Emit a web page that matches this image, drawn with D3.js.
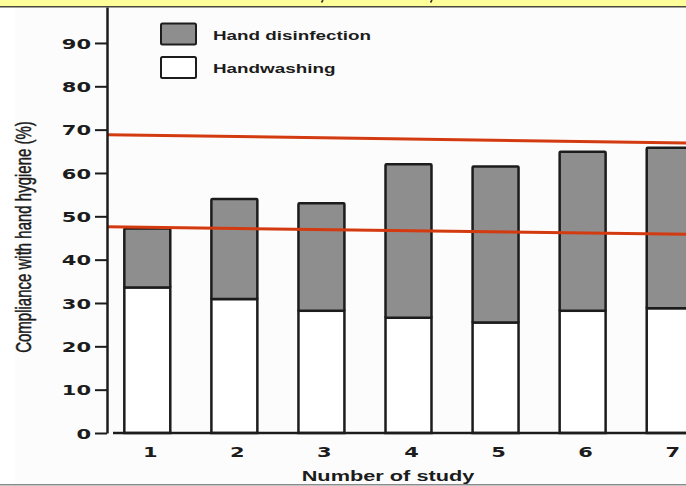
<!DOCTYPE html>
<html>
<head>
<meta charset="utf-8">
<script src="https://cdn.jsdelivr.net/npm/d3@7"></script>
<style>
  html, body { margin: 0; padding: 0; background: #ffffff; }
  svg { display: block; }
</style>
</head>
<body>
<div id="chart"></div>
<script>
// values
const studies = [1, 2, 3, 4, 5, 6, 7];
const handwashing = [33.6, 30.9, 28.2, 26.6, 25.5, 28.2, 28.8];
const handDisinfection = [13.6, 23.1, 24.8, 35.4, 36.0, 36.7, 37.0];
const yTicks = [0, 10, 20, 30, 40, 50, 60, 70, 80, 90];
const trendX = [0.54, 7.5];
const upperTrend = [68.85, 66.8];
const lowerTrend = [47.6, 45.77];
const legendItems = [
  { label: "Hand disinfection", fill: "#8e8e8e" },
  { label: "Handwashing", fill: "#ffffff" },
];

(function () {
  const width = 686;
  const height = 486;
  const stretch = 1.45; // the source image is widened, so is its type
  const ink = "#1c1c1c";
  const numFont = "'DejaVu Sans', sans-serif";
  const textFont = "'Liberation Sans', Arial, sans-serif";

  const svg = d3.select("#chart").append("svg").attr("width", width).attr("height", height);

  // page background and frame bits
  svg.append("rect").attr("x", 15).attr("y", 7).attr("width", width - 15).attr("height", 477).attr("fill", "#fcfcfc");
  svg.append("rect").attr("x", 0).attr("y", 0).attr("width", width).attr("height", 6).attr("fill", "#ffff99");
  svg.append("line").attr("x1", 0).attr("x2", width).attr("y1", 6.75).attr("y2", 6.75).attr("stroke", "#4a4a3c").attr("stroke-width", 1.5);
  svg.append("line").attr("x1", 0).attr("x2", width).attr("y1", 484.75).attr("y2", 484.75).attr("stroke", "#8a8a8a").attr("stroke-width", 1.5);
  // tails of a caption line that sits above the crop
  [323, 432].forEach((cx) => {
    svg.append("path").attr("d", `M${cx},0 L${cx - 1.5},2.5`).attr("stroke", "#333").attr("stroke-width", 1.6).attr("fill", "none");
  });

  const x = d3.scaleBand().domain(studies).range([113, 704]).paddingInner(0.472).paddingOuter(0.13);
  const y = d3.scaleLinear().domain([0, 98.3]).range([433, 7]);
  const xLin = d3
    .scaleLinear()
    .domain([1, 7])
    .range([x(1) + x.bandwidth() / 2, x(7) + x.bandwidth() / 2]);

  const rows = studies.map((s, i) => ({ study: s, wash: handwashing[i], dis: handDisinfection[i] }));

  // bars
  const bars = svg.append("g").attr("class", "bars");
  bars
    .selectAll("rect.wash")
    .data(rows)
    .join("rect")
    .attr("class", "wash")
    .attr("x", (d) => x(d.study))
    .attr("width", x.bandwidth())
    .attr("y", (d) => y(d.wash))
    .attr("height", (d) => y(0) - y(d.wash))
    .attr("fill", "#ffffff")
    .attr("stroke", ink)
    .attr("stroke-width", 2.5);
  bars
    .selectAll("rect.dis")
    .data(rows)
    .join("rect")
    .attr("class", "dis")
    .attr("x", (d) => x(d.study))
    .attr("width", x.bandwidth())
    .attr("y", (d) => y(d.wash + d.dis))
    .attr("height", (d) => y(d.wash) - y(d.wash + d.dis))
    .attr("fill", "#8e8e8e")
    .attr("stroke", ink)
    .attr("stroke-width", 2.5)
    .attr("rx", 1);

  // trend lines
  const line = d3
    .line()
    .x((d) => xLin(d[0]))
    .y((d) => y(d[1]));
  [upperTrend, lowerTrend].forEach((vals) => {
    svg
      .append("path")
      .datum(trendX.map((t, i) => [t, vals[i]]))
      .attr("d", line)
      .attr("fill", "none")
      .attr("stroke", "#d43a10")
      .attr("stroke-width", 3);
  });

  // y axis
  svg
    .append("g")
    .attr("transform", "translate(107,0)")
    .call(d3.axisLeft(y).tickValues(yTicks).tickSize(12).tickSizeOuter(0))
    .call((axis) => axis.select(".domain").attr("stroke", ink).attr("stroke-width", 2.5))
    .call((axis) => axis.selectAll(".tick line").attr("stroke", ink).attr("stroke-width", 2))
    .call((axis) =>
      axis
        .selectAll(".tick text")
        .attr("x", -16 / stretch)
        .attr("dy", "0.36em")
        .attr("transform", `scale(${stretch},1)`)
        .attr("fill", ink)
        .attr("font-family", numFont)
        .attr("font-weight", 700)
        .attr("font-size", 14.5)
    );

  // x axis
  svg
    .append("line")
    .attr("x1", 113)
    .attr("x2", width)
    .attr("y1", y(0))
    .attr("y2", y(0))
    .attr("stroke", ink)
    .attr("stroke-width", 2.5);
  svg
    .append("g")
    .selectAll("text")
    .data(studies)
    .join("text")
    .attr("transform", (d) => `translate(${x(d) + x.bandwidth() / 2 + 3},457) scale(${stretch},1)`)
    .attr("text-anchor", "middle")
    .attr("fill", ink)
    .attr("font-family", numFont)
    .attr("font-weight", 700)
    .attr("font-size", 14.5)
    .text((d) => d);

  svg
    .append("text")
    .attr("transform", `translate(388,481) scale(${stretch},1)`)
    .attr("text-anchor", "middle")
    .attr("fill", ink)
    .attr("font-family", textFont)
    .attr("font-weight", 700)
    .attr("font-size", 15)
    .text("Number of study");

  svg
    .append("text")
    .attr("transform", `translate(31,237) rotate(-90) scale(1,${stretch})`)
    .attr("text-anchor", "middle")
    .attr("fill", ink)
    .attr("stroke", ink)
    .attr("stroke-width", 0.35)
    .attr("font-family", textFont)
    .attr("font-size", 15)
    .text("Compliance with hand hygiene (%)");

  // legend
  const legend = svg.append("g").attr("transform", "translate(161,23.5)");
  legendItems.forEach((item, index) => {
    const g = legend.append("g").attr("transform", `translate(0,${index * 33.5})`);
    g.append("rect")
      .attr("width", 35)
      .attr("height", 21)
      .attr("fill", item.fill)
      .attr("stroke", ink)
      .attr("stroke-width", 2)
      .attr("rx", 1.5);
    g.append("text")
      .attr("transform", `translate(52,16) scale(${stretch},1)`)
      .attr("fill", ink)
      .attr("font-family", textFont)
      .attr("font-weight", 700)
      .attr("font-size", 13)
      .text(item.label);
  });
})();
</script>
</body>
</html>
